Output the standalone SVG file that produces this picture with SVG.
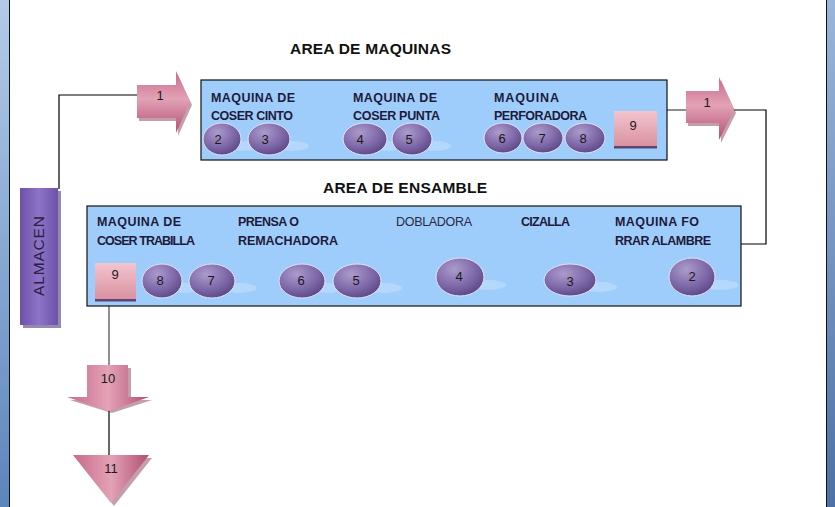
<svg xmlns="http://www.w3.org/2000/svg" width="835" height="507" viewBox="0 0 835 507">
<defs>
<linearGradient id="frameL" x1="0" y1="0" x2="0" y2="1"><stop offset="0" stop-color="#b3cbe8"/><stop offset="1" stop-color="#5c85bd"/></linearGradient>
<linearGradient id="frameR" x1="0" y1="0" x2="0" y2="1"><stop offset="0" stop-color="#9ab6dc"/><stop offset="1" stop-color="#4d71a6"/></linearGradient>
<linearGradient id="pinkV" x1="0" y1="0" x2="0" y2="1"><stop offset="0" stop-color="#c86a88"/><stop offset="0.45" stop-color="#e3a2b6"/><stop offset="1" stop-color="#b14f72"/></linearGradient>
<linearGradient id="pinkH" x1="0" y1="0" x2="1" y2="0"><stop offset="0" stop-color="#c86a88"/><stop offset="0.5" stop-color="#e3a2b6"/><stop offset="1" stop-color="#b14f72"/></linearGradient>
<linearGradient id="sq9" x1="0" y1="0" x2="0" y2="1"><stop offset="0" stop-color="#f3c4d0"/><stop offset="1" stop-color="#d9909f"/></linearGradient>
<radialGradient id="ell" cx="0.38" cy="0.3" r="0.75"><stop offset="0" stop-color="#ab9bcc"/><stop offset="0.6" stop-color="#7e68a8"/><stop offset="1" stop-color="#5a4684"/></radialGradient>
<linearGradient id="alm" x1="0" y1="0" x2="1" y2="0"><stop offset="0" stop-color="#6c52a8"/><stop offset="0.5" stop-color="#8e74c8"/><stop offset="1" stop-color="#6c52a8"/></linearGradient>
</defs>
<style>
.box{fill:#9fcdfb;stroke:#111;stroke-width:1.2}
.lbl{font-family:"Liberation Sans",Arial,sans-serif;font-weight:bold;font-size:12.5px;fill:#1e1a3a}
.lbln{font-family:"Liberation Sans",Arial,sans-serif;font-size:12.5px;fill:#2a2840}
.title{font-family:"Liberation Sans",Arial,sans-serif;font-weight:bold;font-size:15.5px;fill:#111}
.num{font-family:"Liberation Sans",Arial,sans-serif;font-size:13px;fill:#1a1a1a;text-anchor:middle}
.e{fill:url(#ell);stroke:#e6e2f2;stroke-width:1}
.refl{fill:#ffffff;opacity:0.22}
.arrow{fill:url(#pinkV)}
.shadow{fill:#8a3e5c;opacity:0.5}
.sq{fill:url(#sq9)}
.sqb{fill:#5e4470}
.blk{fill:none;stroke:#000;stroke-width:1.2}
.gry{fill:none;stroke:#6a6a6a;stroke-width:1.5}
</style>
<rect x="0" y="0" width="835" height="507" fill="#ffffff"/>
<g id="window-frame">
<rect x="0" y="0" width="9" height="507" fill="url(#frameL)"/>
<line x1="9.5" y1="0" x2="9.5" y2="507" stroke="#111" stroke-width="1"/>
<rect x="827" y="0" width="8" height="507" fill="url(#frameR)"/>
<line x1="826.5" y1="0" x2="826.5" y2="507" stroke="#111" stroke-width="1"/>
</g>
<g id="connectors">
<polyline class="blk" points="59,189 59,95 138,95"/>
<line class="gry" x1="667" y1="110" x2="687" y2="110"/>
<polyline class="blk" points="734,110 766,110 766,244 741,244"/>
<line class="gry" x1="109" y1="303" x2="109" y2="366"/>
<line class="blk" x1="109" y1="410" x2="109" y2="456"/>
</g>
<g id="title-maquinas"><text class="title" x="290" y="54" textLength="161">AREA DE MAQUINAS</text></g>
<g id="title-ensamble"><text class="title" x="323" y="193" textLength="164">AREA DE ENSAMBLE</text></g>
<g id="almacen">
<rect x="23" y="191" width="38" height="137" fill="#4d3a78" opacity="0.6"/>
<rect x="20" y="188" width="38" height="137" fill="url(#alm)"/>
<text transform="translate(44,256) rotate(-90)" text-anchor="middle" textLength="80" style="font-family:'Liberation Sans',Arial,sans-serif;font-size:15.5px" fill="#2a2040">ALMACEN</text>
</g>
<g id="arrow-1-in">
<polygon class="shadow" points="139,88 178,88 178,75 192,105 178,136 178,121 139,121"/>
<polygon class="arrow" points="137,85 176,85 176,71 190,102 176,133 176,118 137,118"/>
<text class="num" x="160" y="100">1</text>
</g>
<g id="area-maquinas">
<rect class="box" x="201" y="80" width="466" height="80"/>
<text class="lbl" x="211" y="102" textLength="84">MAQUINA DE</text>
<text class="lbl" x="211" y="120" textLength="82">COSER CINTO</text>
<text class="lbl" x="353" y="102" textLength="84">MAQUINA DE</text>
<text class="lbl" x="353" y="120" textLength="87">COSER PUNTA</text>
<text class="lbl" x="494" y="102" textLength="65">MAQUINA</text>
<text class="lbl" x="494" y="120" textLength="93">PERFORADORA</text>
</g>
<g id="m-top-2"><ellipse class="refl" cx="243" cy="146" rx="17" ry="5"/><ellipse class="e" cx="222" cy="139" rx="19" ry="16"/><text class="num" x="218" y="144">2</text></g>
<g id="m-top-3"><ellipse class="refl" cx="292" cy="146" rx="17" ry="5"/><ellipse class="e" cx="269" cy="139" rx="21" ry="16"/><text class="num" x="265" y="144">3</text></g>
<g id="m-top-4"><ellipse class="refl" cx="388" cy="146" rx="17" ry="5"/><ellipse class="e" cx="365" cy="139" rx="22" ry="16"/><text class="num" x="360" y="144">4</text></g>
<g id="m-top-5"><ellipse class="refl" cx="434" cy="146" rx="17" ry="5"/><ellipse class="e" cx="412" cy="139" rx="20" ry="16"/><text class="num" x="409" y="144">5</text></g>
<g id="m-top-6"><ellipse class="e" cx="503" cy="138" rx="19" ry="15"/><text class="num" x="502" y="143">6</text></g>
<g id="m-top-7"><ellipse class="e" cx="543" cy="138" rx="20" ry="15"/><text class="num" x="542" y="143">7</text></g>
<g id="m-top-8"><ellipse class="e" cx="585" cy="138" rx="20" ry="15"/><text class="num" x="583" y="143">8</text></g>
<g id="m-top-9"><rect class="sq" x="614" y="111" width="43" height="36"/><rect class="sqb" x="614" y="146" width="43" height="2.5"/><text class="num" x="633" y="130">9</text></g>
<g id="arrow-1-out">
<polygon class="shadow" points="688,94 721,94 721,80 736,113 721,143 721,126 688,126"/>
<polygon class="arrow" points="686,91 719,91 719,77 734,110 719,140 719,123 686,123"/>
<text class="num" x="707" y="107">1</text>
</g>
<g id="area-ensamble">
<rect class="box" x="87" y="206" width="654" height="100"/>
<text class="lbl" x="97" y="226" textLength="84">MAQUINA DE</text>
<text class="lbl" x="97" y="245" textLength="98">COSER TRABILLA</text>
<text class="lbl" x="238" y="226" textLength="61">PRENSA O</text>
<text class="lbl" x="238" y="245" textLength="100">REMACHADORA</text>
<text class="lbln" x="396" y="226" textLength="76">DOBLADORA</text>
<text class="lbl" x="521" y="226" textLength="49">CIZALLA</text>
<text class="lbl" x="615" y="226" textLength="84">MAQUINA FO</text>
<text class="lbl" x="615" y="245" textLength="96">RRAR ALAMBRE</text>
</g>
<g id="e-bot-9"><rect class="sq" x="95" y="263" width="41" height="37"/><rect class="sqb" x="95" y="299" width="41" height="2.5"/><text class="num" x="115" y="279">9</text></g>
<g id="e-bot-8"><ellipse class="refl" cx="184" cy="288" rx="17" ry="5"/><ellipse class="e" cx="162" cy="281" rx="20" ry="17"/><text class="num" x="160" y="285">8</text></g>
<g id="e-bot-7"><ellipse class="refl" cx="238" cy="288" rx="19" ry="5"/><ellipse class="e" cx="212" cy="281" rx="23" ry="17"/><text class="num" x="211" y="285">7</text></g>
<g id="e-bot-6"><ellipse class="refl" cx="326" cy="288" rx="17" ry="5"/><ellipse class="e" cx="302" cy="281" rx="23" ry="17"/><text class="num" x="301" y="285">6</text></g>
<g id="e-bot-5"><ellipse class="refl" cx="383" cy="288" rx="19" ry="5"/><ellipse class="e" cx="357" cy="281" rx="24" ry="17"/><text class="num" x="356" y="285">5</text></g>
<g id="e-bot-4"><ellipse class="refl" cx="487" cy="285" rx="19" ry="5"/><ellipse class="e" cx="460" cy="277" rx="24" ry="19"/><text class="num" x="459" y="281">4</text></g>
<g id="e-bot-3"><ellipse class="refl" cx="598" cy="287" rx="19" ry="5"/><ellipse class="e" cx="570" cy="280" rx="26" ry="16"/><text class="num" x="570" y="286">3</text></g>
<g id="e-bot-2"><ellipse class="refl" cx="720" cy="285" rx="19" ry="5"/><ellipse class="e" cx="692" cy="277" rx="23" ry="19"/><text class="num" x="692" y="281">2</text></g>
<g id="arrow-10">
<polygon class="shadow" points="90,368 131,368 131,400 152,400 112,413 70,400 90,400"/>
<polygon fill="url(#pinkH)" points="87,365 128,365 128,397 149,397 109,411 67,397 87,397"/>
<text class="num" x="108" y="383">10</text>
</g>
<g id="triangle-11">
<polygon class="shadow" points="76,458 152,458 114,506"/>
<polygon fill="url(#pinkH)" points="73,455 149,455 111,503"/>
<text class="num" x="111" y="473">11</text>
</g>
</svg>
